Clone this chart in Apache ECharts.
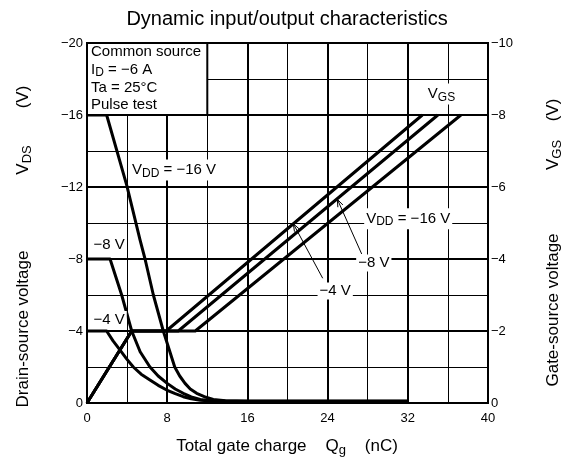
<!DOCTYPE html>
<html><head><meta charset="utf-8">
<script src="https://cdn.jsdelivr.net/npm/echarts@6/dist/echarts.min.js"></script>
<style>html,body{margin:0;padding:0;background:#fff}#c{width:565px;height:467px}</style>
</head><body><div id="c"></div>
<script>
const FONT = '"Liberation Sans", Arial, Helvetica, sans-serif';

// ---- Data (Qg in nC, VDS / VGS in V) ----
const vds16Q = [0, 1.96, 3.96, 5.29, 5.79, 6.62, 7.61, 8.75, 9.25, 9.78, 10.3, 10.94, 11.7, 12.6, 13.8, 16, 32];
const vds16V = [-16, -16, -12.1, -9.06, -8, -6, -4, -2, -1.5, -1.09, -0.78, -0.54, -0.35, -0.2, -0.12, -0.1, -0.1];
const vds8Q = [0, 2.3, 3.46, 4.46, 5.3, 6.28, 7.1, 8, 8.8, 9.6, 10.4, 11.3, 12.3, 14, 32];
const vds8V = [-8, -8, -6, -4, -2.85, -2, -1.5, -1.09, -0.78, -0.54, -0.34, -0.2, -0.12, -0.1, -0.1];
const vds4Q = [0, 1.96, 2.6, 3.3, 3.95, 4.62, 5.4, 6.28, 7.1, 7.95, 8.8, 9.6, 10.4, 11.3, 13, 32];
const vds4V = [-4, -4, -3.45, -2.94, -2.45, -2, -1.6, -1.28, -0.98, -0.72, -0.52, -0.35, -0.23, -0.15, -0.1, -0.1];

const vgs4Q = [0, 4.46, 7.9, 33.45];
const vgs4V = [0, -2, -2, -8];
const vgs8Q = [0, 4.46, 9.1, 35.0];
const vgs8V = [0, -2, -2, -8];
const vgs16Q = [0, 4.46, 10.8, 37.3];
const vgs16V = [0, -2, -2, -8];

const xTicks = [0, 8, 16, 24, 32, 40];
const vdsTicks = [-20, -16, -12, -8, -4, 0];
const vgsTicks = [-10, -8, -6, -4, -2, 0];

const pairs = (xs, ys) => xs.map((x, i) => [x, ys[i]]);
const minus = v => (v < 0 ? '\u2212' + Math.abs(v) : String(v));

const chart = echarts.init(document.getElementById('c'), null, {renderer: 'canvas'});

const lineSeries = (name, data, yIdx) => ({
  name, type: 'line', data, yAxisIndex: yIdx, showSymbol: false, symbol: 'none',
  smooth: false, lineStyle: {color: '#000', width: 3, join: 'round'}, z: 5, silent: true, animation: false
});

chart.setOption({
  animation: false,
  backgroundColor: '#fff',
  textStyle: {fontFamily: FONT, color: '#000'},
  grid: {left: 87, right: 77, top: 43, bottom: 64, show: true, borderColor: '#000', borderWidth: 2, backgroundColor: '#fff'},
  xAxis: {
    type: 'value', min: xTicks[0], max: xTicks[xTicks.length - 1], interval: xTicks[1] - xTicks[0],
    axisLine: {show: true, onZero: false, lineStyle: {color: '#000', width: 2}},
    axisTick: {show: false},
    axisLabel: {color: '#000', fontSize: 13, fontFamily: FONT, margin: 9},
    splitLine: {show: true, lineStyle: {color: '#000', width: 2}},
    minorTick: {show: false, splitNumber: 2},
    minorSplitLine: {show: true, lineStyle: {color: '#000', width: 1}}
  },
  yAxis: [{
    type: 'value', min: vdsTicks[0], max: vdsTicks[vdsTicks.length - 1], interval: vdsTicks[1] - vdsTicks[0],
    inverse: true, position: 'left',
    axisLine: {show: true, onZero: false, lineStyle: {color: '#000', width: 2}},
    axisTick: {show: false},
    axisLabel: {color: '#000', fontSize: 13, fontFamily: FONT, margin: 4, formatter: minus},
    splitLine: {show: true, lineStyle: {color: '#000', width: 2}},
    minorTick: {show: false, splitNumber: 2},
    minorSplitLine: {show: true, lineStyle: {color: '#000', width: 1}}
  }, {
    type: 'value', min: vgsTicks[0], max: vgsTicks[vgsTicks.length - 1], interval: vgsTicks[1] - vgsTicks[0],
    inverse: true, position: 'right',
    axisLine: {show: true, onZero: false, lineStyle: {color: '#000', width: 2}},
    axisTick: {show: false},
    axisLabel: {color: '#000', fontSize: 13, fontFamily: FONT, margin: 3, formatter: minus},
    splitLine: {show: false}
  }],
  series: [
    lineSeries('VDS -16', pairs(vds16Q, vds16V), 0),
    lineSeries('VDS -8', pairs(vds8Q, vds8V), 0),
    lineSeries('VDS -4', pairs(vds4Q, vds4V), 0),
    lineSeries('VGS -4', pairs(vgs4Q, vgs4V), 1),
    lineSeries('VGS -8', pairs(vgs8Q, vgs8V), 1),
    lineSeries('VGS -16', pairs(vgs16Q, vgs16V), 1)
  ]
});

// ---- Annotations (positioned in data units, converted to pixels) ----
const P = (q, v) => chart.convertToPixel({xAxisIndex: 0, yAxisIndex: 0}, [q, v]);
const rich = {
  n: {fontSize: 15, fontFamily: FONT, fill: '#000', color: '#000'},
  s: {fontSize: 12, fontFamily: FONT, fill: '#000', color: '#000', padding: [7, 0, 0, 0]}
};
const big = {
  n: {fontSize: 17, fontFamily: FONT, fill: '#000', color: '#000'},
  s: {fontSize: 13, fontFamily: FONT, fill: '#000', color: '#000', padding: [8, 0, 0, 0]}
};
function label(text, q, v, opts) {
  const p = P(q, v);
  return {
    type: 'text', x: p[0], y: p[1], z: 100,
    style: Object.assign({
      text, rich, fill: '#000', font: '15px ' + FONT,
      align: 'left', verticalAlign: 'middle',
      backgroundColor: '#fff', padding: [1, 2, 1, 2]
    }, opts || {})
  };
}
function arrow(q1, v1, q2, v2) {
  const a = P(q1, v1), b = P(q2, v2);
  const ang = Math.atan2(b[1] - a[1], b[0] - a[0]);
  const L = 8, w = 0.35;
  const w1 = [b[0] - L * Math.cos(ang - w), b[1] - L * Math.sin(ang - w)];
  const w2 = [b[0] - L * Math.cos(ang + w), b[1] - L * Math.sin(ang + w)];
  return [
    {type: 'line', z: 100, shape: {x1: a[0], y1: a[1], x2: b[0], y2: b[1]}, style: {stroke: '#000', lineWidth: 1}},
    {type: 'polyline', z: 100, shape: {points: [w1, b, w2]}, style: {stroke: '#000', lineWidth: 1, fill: null}}
  ];
}
function vname(text, x, y) {
  return {type: 'text', z: 100, x, y, rotation: Math.PI / 2,
    style: {text, rich: big, fill: '#000', font: '17px ' + FONT, align: 'center', verticalAlign: 'middle'}};
}
const b0 = P(0, -20), b1 = P(12, -16);
const boxLines = ['{n|Common source}', '{n|I}{s|D}{n| = \u22126 A}', '{n|Ta = 25\u00b0C}', '{n|Pulse test}'];
const boxY = [51.5, 69.5, 87.5, 104.5];

const graphics = [
  {type: 'rect', z: 90, shape: {x: b0[0], y: b0[1], width: b1[0] - b0[0], height: b1[1] - b0[1]},
   style: {fill: '#fff', stroke: '#000', lineWidth: 2}},
  ...boxLines.map((t, i) => ({type: 'text', z: 101, x: b0[0] + 4, y: boxY[i],
     style: {text: t, rich, fill: '#000', font: '15px ' + FONT, align: 'left', verticalAlign: 'middle'}})),
  label('{n|V}{s|DD}{n| = \u221216 V}', 4.29, -12.94),
  label('{n|\u22128 V}', 0.45, -8.78),
  label('{n|\u22124 V}', 0.45, -4.64),
  label('{n|V}{s|DD}{n| = \u221216 V}', 27.65, -10.24),
  label('{n|\u22128 V}', 26.85, -7.78),
  label('{n|\u22124 V}', 23.0, -6.22),
  label('{n|V}{s|GS}', 33.8, -17.17),
  ...arrow(27.4, -8.28, 24.97, -11.32),
  ...arrow(23.51, -6.93, 20.58, -9.96),
  // title and axis names
  {type: 'text', z: 100, x: 287, y: 19, style: {text: 'Dynamic input/output characteristics', fill: '#000', font: '20px ' + FONT, align: 'center', verticalAlign: 'middle'}},
  {type: 'text', z: 100, x: 287, y: 446, style: {text: '{n|Total gate charge    Q}{s|g}{n|    (nC)}', rich: big, fill: '#000', font: '17px ' + FONT, align: 'center', verticalAlign: 'middle'}},
  vname('{n|Drain-source voltage}', 23, 329),
  vname('{n|V}{s|DS}', 23, 160),
  vname('{n|(V)}', 23, 97),
  vname('{n|Gate-source voltage}', 553, 310),
  vname('{n|V}{s|GS}', 553, 155),
  vname('{n|(V)}', 553, 110)
];
chart.setOption({graphic: graphics});
</script>
</body></html>
